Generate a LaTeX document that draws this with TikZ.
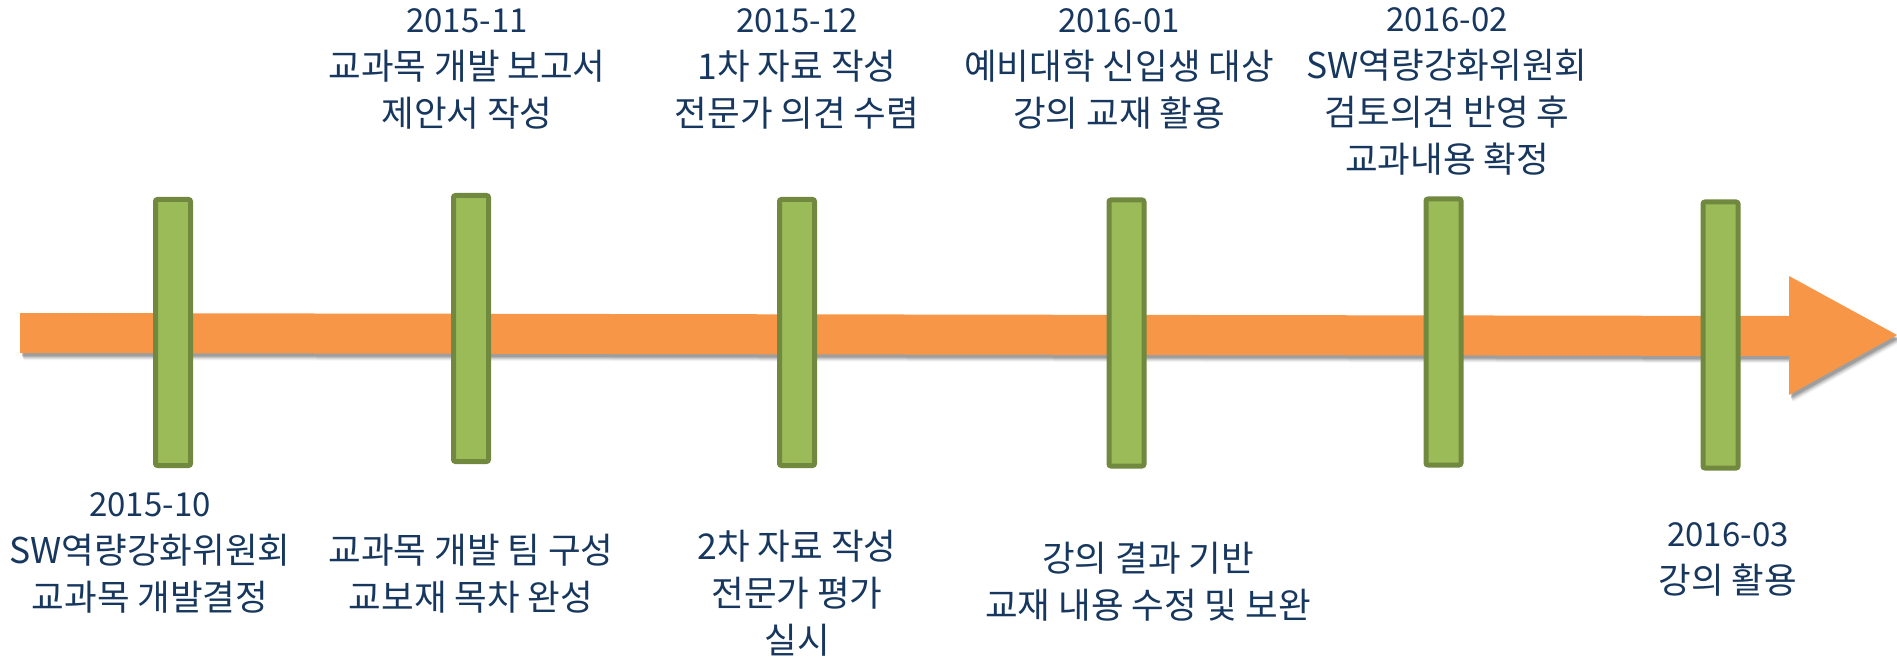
\documentclass[tikz,border=0pt]{standalone}
\usepackage{fontspec}
\setmainfont{Noto Sans CJK KR}
\definecolor{txtblue}{HTML}{17375E}
\definecolor{arroworange}{HTML}{F79646}
\definecolor{barfill}{HTML}{9BBB59}
\definecolor{barline}{HTML}{71893F}
\newcommand{\dte}[1]{{\fontsize{33}{47}\selectfont #1}}
\tikzset{
  bar/.style={draw=barline, fill=barfill, line width=5pt, rounded corners=2pt,
    minimum width=35pt, minimum height=266pt, inner sep=0pt},
  lbl/.style={text=txtblue, align=center, anchor=base, inner sep=0pt,
    font=\fontsize{35.5}{47}\selectfont},
}
\begin{document}
\begin{tikzpicture}[x=1pt,y=-1pt]
\useasboundingbox (0,0) rectangle (1897,660);
\def\arrowpath{(20,313) -- (1789,316) -- (1789,276) -- (1897,335) -- (1789,395) -- (1789,356) -- (20,353) -- cycle}
% shadow
\foreach \dx/\dy/\op in {4/7/0.05,3/6/0.07,3/5/0.09,2/4/0.12,2/3/0.12}{
  \fill[black, opacity=\op, shift={(\dx,\dy)}] \arrowpath;
}
\fill[arroworange] \arrowpath;
% bars
\node[bar] (b1) at (173,332.5) {};
\node[bar] (b2) at (471,328.5) {};
\node[bar] (b3) at (797,332.5) {};
\node[bar] (b4) at (1126.5,333) {};
\node[bar] (b5) at (1443.5,332) {};
\node[bar] (b6) at (1720.5,335) {};
% top labels (anchor = baseline of last line)
\node[lbl] (t2) at (467,127) {\dte{2015-11}\\교과목 개발 보고서\\제안서 작성};
\node[lbl] (t3) at (797,127) {\dte{2015-12}\\1차 자료 작성\\전문가 의견 수렴};
\node[lbl] (t4) at (1119,127) {\dte{2016-01}\\예비대학 신입생 대상\\강의 교재 활용};
\node[lbl] (t5) at (1447,173) {\dte{2016-02}\\SW역량강화위원회\\검토의견 반영 후\\교과내용 확정};
% bottom labels
\node[lbl] (t1) at (150,610) {\dte{2015-10}\\SW역량강화위원회\\교과목 개발결정};
\node[lbl] (t6) at (471,610) {교과목 개발 팀 구성\\교보재 목차 완성};
\node[lbl] (t7) at (797,653) {2차 자료 작성\\전문가 평가\\실시};
\node[lbl] (t8) at (1148,618) {강의 결과 기반\\교재 내용 수정 및 보완};
\node[lbl] (t9) at (1728,593) {\dte{2016-03}\\강의 활용};
\end{tikzpicture}
\end{document}
